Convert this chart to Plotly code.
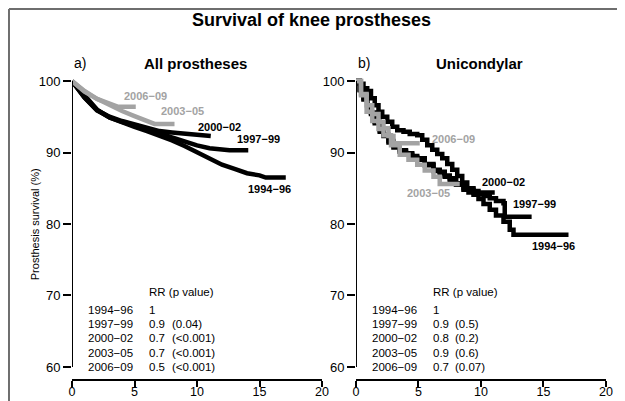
import plotly.graph_objects as go

# ---------------- data ----------------
periods = ["1994-96", "1997-99", "2000-02", "2003-05", "2006-09"]
period_labels = ["1994\u221296", "1997\u221299", "2000\u221202", "2003\u221205", "2006\u221209"]
period_colors = ["#000000", "#000000", "#000000", "#a3a3a3", "#a3a3a3"]

# Panel a) All prostheses (years, survival %)
all_1994_t = [0, 0.5, 1, 2, 3, 4, 5, 6, 7, 8, 9, 10, 11, 12, 13, 14, 15, 15.5, 17.1]
all_1994_s = [100, 99.0, 97.8, 96.0, 94.9, 94.2, 93.6, 93.0, 92.4, 91.7, 90.9, 90.0, 89.2, 88.3, 87.7, 87.1, 86.8, 86.5, 86.5]
all_1997_t = [0, 0.5, 1, 2, 3, 4, 5, 6, 7, 8, 9, 10, 11, 12, 12.6, 14.1]
all_1997_s = [100, 98.9, 97.7, 95.9, 94.9, 94.3, 93.8, 93.2, 92.7, 92.1, 91.5, 91.0, 90.6, 90.4, 90.3, 90.3]
all_2000_t = [0, 0.5, 1, 2, 3, 4, 5, 6, 7, 8, 9, 10, 10.5, 11.1]
all_2000_s = [100, 98.9, 97.7, 95.9, 95.0, 94.4, 93.9, 93.4, 93.0, 92.8, 92.6, 92.4, 92.3, 92.3]
all_2003_t = [0, 0.5, 1, 2, 3, 4, 5, 6, 6.6, 8.2]
all_2003_s = [100, 99.2, 98.5, 97.5, 96.6, 95.8, 95.1, 94.5, 94.0, 94.0]
all_2006_t = [0, 0.5, 1, 2, 3, 3.7, 5.1]
all_2006_s = [100, 99.3, 98.6, 97.5, 96.8, 96.4, 96.4]

# Panel b) Unicondylar
uni_1994_t = [0, 0.3, 0.6, 0.9, 1.2, 1.5, 1.9, 2.2, 2.6, 3.0, 3.5, 4.0, 4.5, 4.9, 5.5, 6.2, 6.7, 7.1, 7.5, 8.0, 8.6, 9.0, 9.4, 9.8, 10.2, 10.7, 11.2, 11.8, 12.3, 12.6, 17.0]
uni_1994_s = [100, 98.7, 97.4, 96.3, 95.4, 94.1, 92.9, 92.3, 91.4, 90.7, 90.1, 89.7, 89.3, 89.0, 88.2, 87.4, 87.1, 86.6, 86.2, 85.5, 84.8, 84.4, 84.1, 83.5, 82.8, 82.0, 81.2, 80.3, 79.2, 78.5, 78.5]
uni_1997_t = [0, 0.3, 0.6, 0.9, 1.2, 1.5, 1.9, 2.2, 2.6, 3.0, 3.5, 4.0, 4.5, 4.9, 5.5, 6.2, 6.7, 7.1, 7.5, 8.0, 8.6, 9.0, 9.4, 9.8, 10.2, 10.7, 11.2, 11.8, 11.9, 14.05]
uni_1997_s = [100, 98.8, 97.6, 96.5, 95.6, 94.3, 93.1, 92.5, 91.6, 90.9, 90.3, 89.9, 89.5, 89.2, 88.4, 87.6, 87.3, 86.8, 86.4, 85.7, 85.0, 84.8, 84.6, 84.2, 83.9, 83.6, 83.2, 82.9, 81.0, 81.0]
uni_2000_t = [0, 0.3, 0.6, 0.9, 1.2, 1.5, 1.8, 2.1, 2.5, 2.9, 3.3, 3.8, 4.3, 4.9, 5.3, 5.7, 6.1, 6.5, 6.9, 7.3, 7.7, 8.1, 8.5, 8.9, 9.4, 11.1]
uni_2000_s = [100, 99.6, 99.0, 98.6, 97.6, 96.6, 95.7, 95.0, 94.3, 93.6, 93.1, 92.9, 92.6, 92.4, 91.8, 91.0, 90.4, 89.8, 89.2, 88.4, 87.6, 86.7, 85.8, 85.0, 84.4, 84.4]
uni_2003_t = [0, 0.4, 0.85, 1.3, 1.8, 2.2, 2.8, 3.5, 4.2, 4.9, 5.5, 6.2, 6.7, 8.3]
uni_2003_s = [100, 98.0, 95.7, 94.4, 93.3, 92.4, 91.0, 89.7, 89.0, 88.3, 87.5, 86.6, 85.6, 85.6]
uni_2006_t = [0, 0.4, 0.85, 1.3, 1.8, 2.2, 2.6, 3.0, 5.1]
uni_2006_s = [100, 98.2, 96.6, 95.4, 94.3, 93.4, 92.3, 91.3, 91.3]

# curve label positions (years, survival %)
all_label_t = [15.8, 14.9, 11.8, 8.8, 5.9]
all_label_s = [84.9, 91.9, 93.6, 95.8, 97.9]
uni_label_t = [15.8, 14.3, 11.8, 5.8, 7.8]
uni_label_s = [76.9, 82.8, 85.9, 84.3, 91.9]

# relative risk tables
rr_all = ["1", "0.9", "0.7", "0.7", "0.5"]
p_all = ["", "(0.04)", "(<0.001)", "(<0.001)", "(<0.001)"]
rr_uni = ["1", "0.9", "0.8", "0.9", "0.7"]
p_uni = ["", "(0.5)", "(0.2)", "(0.6)", "(0.07)"]
table_rows_s = [68.0, 66.0, 64.1, 62.0, 60.0]
table_header_s = 70.5
table_col_t = [1.1, 6.0, 7.8]

x_ticks = [0, 5, 10, 15, 20]
y_ticks = [60, 70, 80, 90, 100]

FONT = "Liberation Sans, Arial, sans-serif"

all_curves = [(all_1994_t, all_1994_s), (all_1997_t, all_1997_s), (all_2000_t, all_2000_s),
              (all_2003_t, all_2003_s), (all_2006_t, all_2006_s)]
uni_curves = [(uni_1994_t, uni_1994_s), (uni_1997_t, uni_1997_s), (uni_2000_t, uni_2000_s),
              (uni_2003_t, uni_2003_s), (uni_2006_t, uni_2006_s)]

fig = go.Figure()

for (t, s), col, name in zip(all_curves, period_colors, periods):
    fig.add_trace(go.Scatter(x=t, y=s, mode="lines", line=dict(color=col, width=4.5),
                             name=name, showlegend=False, xaxis="x", yaxis="y"))
for (t, s), col, name in zip(uni_curves, period_colors, periods):
    fig.add_trace(go.Scatter(x=t, y=s, mode="lines", line=dict(color=col, width=4.5, shape="hv"),
                             name=name, showlegend=False, xaxis="x2", yaxis="y2"))


def ann(x, y, text, xref, yref, size, color="#000", xanchor="center", **kw):
    return dict(x=x, y=y, xref=xref, yref=yref, text=text, showarrow=False,
                xanchor=xanchor, yanchor="middle",
                font=dict(family=FONT, size=size, color=color), **kw)


annotations = []
# curve labels
for lab, col, t, s in zip(period_labels, period_colors, all_label_t, all_label_s):
    annotations.append(ann(t, s, "<b>%s</b>" % lab, "x", "y", 11, col))
for lab, col, t, s in zip(period_labels, period_colors, uni_label_t, uni_label_s):
    annotations.append(ann(t, s, "<b>%s</b>" % lab, "x2", "y2", 11, col))

# RR tables
for xr, yr, rrs, ps in [("x", "y", rr_all, p_all), ("x2", "y2", rr_uni, p_uni)]:
    annotations.append(ann(table_col_t[1], table_header_s, "RR (p value)", xr, yr, 11.5, xanchor="left"))
    for lab, rr, p, s in zip(period_labels, rrs, ps, table_rows_s):
        annotations.append(ann(table_col_t[0], s, lab, xr, yr, 11.5, xanchor="left"))
        annotations.append(ann(table_col_t[1], s, rr, xr, yr, 11.5, xanchor="left"))
        if p:
            annotations.append(ann(table_col_t[2], s, p, xr, yr, 11.5, xanchor="left"))

# titles
annotations += [
    ann(0.449, 1.177, "<b>Survival of knee prostheses</b>", "paper", "paper", 18),
    ann(0.232, 1.036, "<b>All prostheses</b>", "paper", "paper", 15),
    ann(0.764, 1.036, "<b>Unicondylar</b>", "paper", "paper", 15),
    ann(0.0, 1.036, "a)", "paper", "paper", 14, xanchor="left"),
    ann(0.532, 1.036, "b)", "paper", "paper", 14, xanchor="left"),
    ann(-0.069, 0.508, "Prosthesis survival (%)", "paper", "paper", 11, textangle=-90),
]

shapes = [
    # y axis lines (from 60 to 100 only, detached from x axis)
    dict(type="line", xref="x", yref="y", x0=0, x1=0, y0=60, y1=100, line=dict(color="#000", width=2)),
    dict(type="line", xref="x2", yref="y2", x0=0, x1=0, y0=60, y1=100, line=dict(color="#000", width=2)),
    # outer frame (top and left)
    dict(type="line", xref="paper", yref="paper", x0=-0.118, x1=1.06, y0=1.213, y1=1.213,
         line=dict(color="#6e6e6e", width=2)),
    dict(type="line", xref="paper", yref="paper", x0=-0.118, x1=-0.118, y0=1.213, y1=-0.12,
         line=dict(color="#6e6e6e", width=2)),
]

xaxis_common = dict(range=[0, 20], tickvals=x_ticks, ticktext=[str(v) for v in x_ticks],
                    showgrid=False, zeroline=False, showline=True, linecolor="#000", linewidth=2,
                    ticks="outside", ticklen=6, tickwidth=1.5, tickcolor="#000", automargin=False,
                    ticklabelstandoff=-6,
                    tickfont=dict(family=FONT, size=12.5, color="#000"))
yaxis_common = dict(range=[58.32, 100.98], tickvals=y_ticks, ticktext=[str(v) for v in y_ticks],
                    showgrid=False, zeroline=False, showline=False, automargin=False,
                    ticks="outside", ticklen=8, tickwidth=1.5, tickcolor="#000",
                    tickfont=dict(family=FONT, size=13, color="#000"))

fig.update_layout(
    width=625, height=401,
    margin=dict(l=64, r=27, t=66, b=30, autoexpand=False),
    paper_bgcolor="white", plot_bgcolor="white",
    xaxis=dict(domain=[0, 0.4682], anchor="y", **xaxis_common),
    yaxis=dict(domain=[0, 1], anchor="x", **yaxis_common),
    xaxis2=dict(domain=[0.5318, 1], anchor="y2", **xaxis_common),
    yaxis2=dict(domain=[0, 1], anchor="x2", **yaxis_common),
    annotations=annotations,
    shapes=shapes,
    showlegend=False,
)

fig.write_html("out.html")
